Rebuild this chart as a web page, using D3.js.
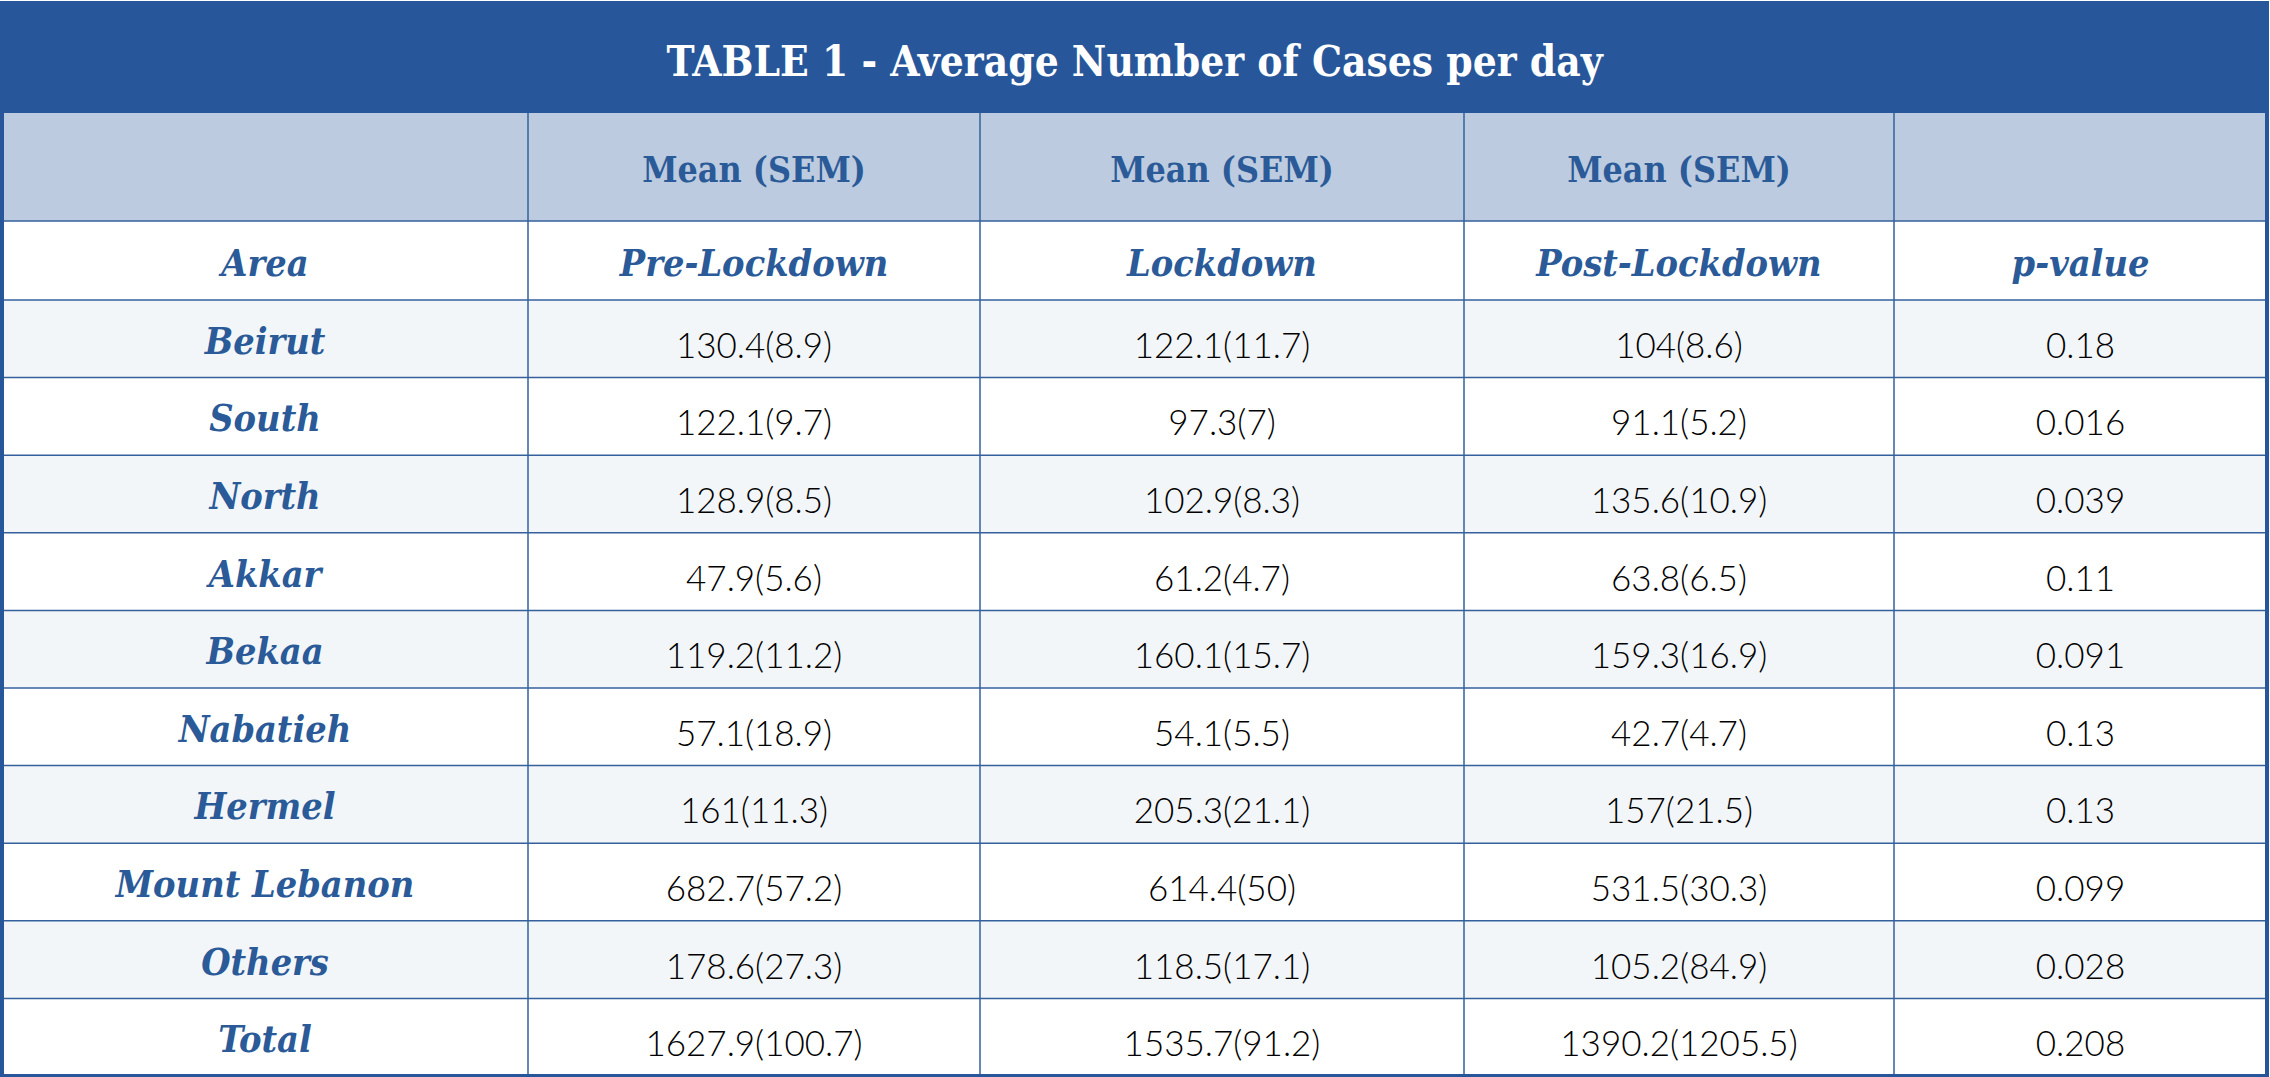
<!DOCTYPE html>
<html>
<head>
<meta charset="utf-8">
<script src="https://cdn.jsdelivr.net/npm/d3@7"></script>
<style>
  html, body { margin: 0; padding: 0; background: #ffffff; }
  svg { display: block; }
</style>
</head>
<body>
<svg id="table_svg" width="2270" height="1077"></svg>
<script>
// Data ***********************************************************************
var tableTitle = "TABLE 1 - Average Number of Cases per day"
var subHeaders = ["", "Mean (SEM)", "Mean (SEM)", "Mean (SEM)", ""]
var colHeaders = ["Area", "Pre-Lockdown", "Lockdown", "Post-Lockdown", "p-value"]

var areas = ["Beirut", "South", "North", "Akkar", "Bekaa", "Nabatieh", "Hermel", "Mount Lebanon", "Others", "Total"]

var preMean  = [130.4, 122.1, 128.9, 47.9, 119.2, 57.1, 161, 682.7, 178.6, 1627.9]
var preSem   = [8.9, 9.7, 8.5, 5.6, 11.2, 18.9, 11.3, 57.2, 27.3, 100.7]
var lockMean = [122.1, 97.3, 102.9, 61.2, 160.1, 54.1, 205.3, 614.4, 118.5, 1535.7]
var lockSem  = [11.7, 7, 8.3, 4.7, 15.7, 5.5, 21.1, 50, 17.1, 91.2]
var postMean = [104, 91.1, 135.6, 63.8, 159.3, 42.7, 157, 531.5, 105.2, 1390.2]
var postSem  = [8.6, 5.2, 10.9, 6.5, 16.9, 4.7, 21.5, 30.3, 84.9, 1205.5]
var pValues  = [0.18, 0.016, 0.039, 0.11, 0.091, 0.13, 0.13, 0.099, 0.028, 0.208]

// colours / layout
var darkBlue = "#27579a"
var lineBlue = "#34609c"
var subFill = "#bccbdf"
var stripeFill = "#f3f6f9"
var textBlue = "#2a5a98"

var serif = "'DejaVu Serif Condensed', 'DejaVu Serif', serif"
var sans = "Lato, 'Noto Sans', sans-serif"

var left = 2, right = 2267
var colEdges = [left, 528, 980, 1464, 1894, right]
var titleTop = 3, titleBottom = 113, subBottom = 221, headBottom = 300, tableBottom = 1076

var svg = d3.select("#table_svg")

// one row of cell strings per area
var cellRows = areas.map(function(a, i){
    return [a,
        preMean[i] + "(" + preSem[i] + ")",
        lockMean[i] + "(" + lockSem[i] + ")",
        postMean[i] + "(" + postSem[i] + ")",
        String(pValues[i])]
})

// row scale for the data rows
var y = d3.scaleBand()
    .domain(areas)
    .range([headBottom, tableBottom])

var colMid = function(j){ return (colEdges[j] + colEdges[j + 1]) / 2 }

// backgrounds ****************************************************************
svg.append("rect")
    .attr("x", left).attr("y", titleTop)
    .attr("width", right - left).attr("height", titleBottom - titleTop)
    .style("fill", darkBlue)

svg.append("rect")
    .attr("x", left).attr("y", titleBottom)
    .attr("width", right - left).attr("height", subBottom - titleBottom)
    .style("fill", subFill)

svg.selectAll(".stripe")
    .data(areas)
    .enter().append("rect")
    .attr("class", "stripe")
    .attr("x", left)
    .attr("y", function(d){ return y(d) })
    .attr("width", right - left)
    .attr("height", y.bandwidth())
    .style("fill", function(d, i){ return i % 2 == 0 ? stripeFill : "#ffffff" })

// grid lines *****************************************************************
var hLines = [subBottom, headBottom].concat(areas.slice(1).map(function(d){ return y(d) }))
svg.selectAll(".hline")
    .data(hLines)
    .enter().append("line")
    .attr("x1", left).attr("x2", right)
    .attr("y1", function(d){ return d }).attr("y2", function(d){ return d })
    .style("stroke", lineBlue).style("stroke-width", 1.5)

svg.selectAll(".vline")
    .data(colEdges.slice(1, -1))
    .enter().append("line")
    .attr("x1", function(d){ return d }).attr("x2", function(d){ return d })
    .attr("y1", titleBottom).attr("y2", tableBottom)
    .style("stroke", lineBlue).style("stroke-width", 1.5)

// outer border
svg.append("rect")
    .attr("x", left).attr("y", titleTop)
    .attr("width", right - left).attr("height", tableBottom - titleTop)
    .style("fill", "none")
    .style("stroke", darkBlue)
    .style("stroke-width", 4)

// texts **********************************************************************
svg.append("text")
    .attr("x", (left + right) / 2)
    .attr("y", (titleTop + titleBottom) / 2 + 3)
    .attr("text-anchor", "middle")
    .attr("dominant-baseline", "central")
    .text(tableTitle)
    .style("font-family", serif).style("font-stretch", "condensed")
    .style("font-weight", "bold").style("font-size", "42px")
    .style("fill", "#ffffff")

subHeaders.forEach(function(t, j){
    svg.append("text")
        .attr("x", colMid(j))
        .attr("y", (titleBottom + subBottom) / 2 + 2)
        .attr("text-anchor", "middle")
        .attr("dominant-baseline", "central")
        .text(t)
        .style("font-family", serif).style("font-stretch", "condensed")
        .style("font-weight", "bold").style("font-size", "35.5px")
        .style("fill", textBlue)
})

colHeaders.forEach(function(t, j){
    svg.append("text")
        .attr("x", colMid(j))
        .attr("y", (subBottom + headBottom) / 2 + 2)
        .attr("text-anchor", "middle")
        .attr("dominant-baseline", "central")
        .text(t)
        .style("font-family", serif).style("font-stretch", "condensed")
        .style("font-weight", "bold").style("font-style", "italic")
        .style("font-size", "37.5px")
        .style("fill", textBlue)
})

cellRows.forEach(function(row, i){
    row.forEach(function(t, j){
        var isLabel = j == 0
        svg.append("text")
            .attr("x", colMid(j))
            .attr("y", y(areas[i]) + y.bandwidth() / 2 + (isLabel ? 2 : 5))
            .attr("text-anchor", "middle")
            .attr("dominant-baseline", "central")
            .text(t)
            .style("font-family", isLabel ? serif : sans)
            .style("font-stretch", isLabel ? "condensed" : "normal")
            .style("font-weight", isLabel ? "bold" : "300")
            .style("font-style", isLabel ? "italic" : "normal")
            .style("font-size", isLabel ? "37.5px" : "35px")
            .style("fill", isLabel ? textBlue : "#000000")
    })
})
</script>
</body>
</html>
